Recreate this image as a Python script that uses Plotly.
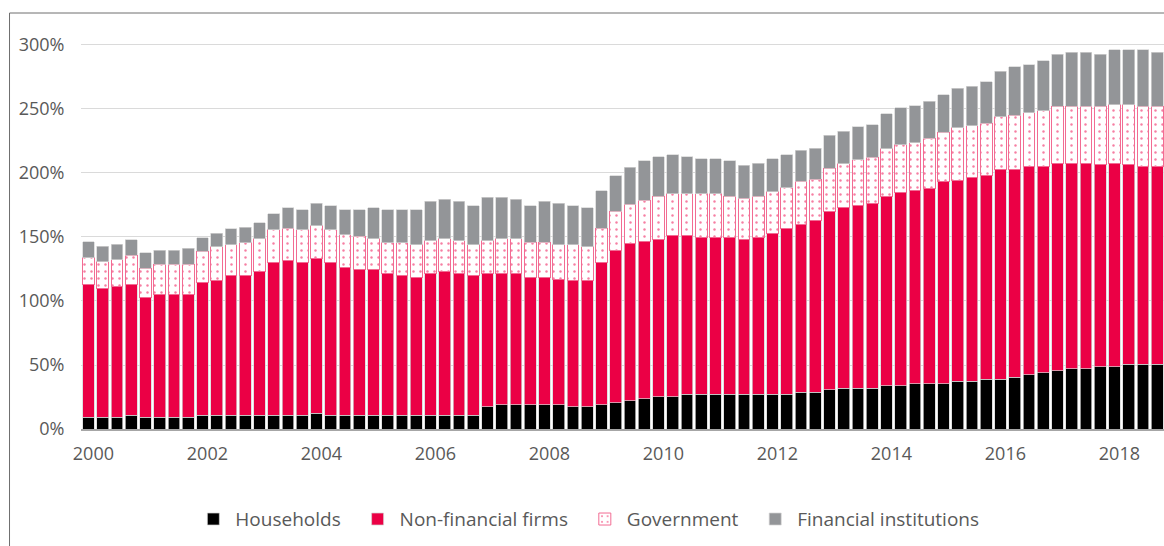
import plotly.graph_objects as go

years = list(range(2000, 2019))
quarters = [y + q / 4 for y in years for q in range(4)]

households = [9.1, 9.1, 9.1, 10.7, 9.1, 9.1, 9.1, 9.1, 10.7, 10.7, 10.7, 10.7, 10.7, 10.7, 10.7, 10.7,
              12.2, 10.7, 10.7, 10.7, 10.7, 10.7, 10.7, 10.7, 10.7, 10.7, 10.7, 10.7, 17.2, 18.8, 18.8, 18.8,
              18.8, 18.8, 17.2, 17.2, 18.8, 20.6, 22.1, 23.7, 25.3, 25.3, 27.1, 27.1, 27.1, 27.1, 27.1, 27.1,
              27.1, 27.1, 28.6, 28.6, 30.5, 32.0, 32.0, 32.0, 33.9, 33.9, 35.4, 35.4, 35.4, 37.2, 37.2, 38.8,
              38.8, 40.4, 42.2, 43.8, 45.6, 47.1, 47.1, 48.7, 48.7, 50.5, 50.5, 50.5]
non_financial = [103.7, 100.5, 102.1, 102.1, 94.0, 95.6, 95.6, 95.6, 103.9, 105.7, 109.1, 109.1, 112.2, 119.0, 120.8, 119.0,
                 120.9, 119.0, 115.6, 114.0, 114.0, 110.7, 109.1, 107.5, 110.7, 112.2, 110.7, 109.1, 104.2, 102.6, 102.6, 99.5,
                 99.5, 97.7, 99.2, 99.2, 110.9, 119.0, 122.7, 122.9, 122.9, 125.7, 123.9, 122.6, 122.6, 122.6, 121.1, 122.6,
                 126.0, 129.4, 131.0, 134.4, 139.3, 141.2, 142.7, 144.3, 147.4, 150.7, 150.8, 152.4, 157.6, 157.3, 159.2, 159.1,
                 164.1, 162.5, 162.5, 160.9, 162.2, 160.7, 160.7, 157.6, 159.1, 155.8, 154.2, 154.2]
government = [21.1, 20.9, 21.1, 22.9, 22.4, 24.2, 24.2, 24.2, 24.2, 25.8, 24.0, 25.8, 25.8, 25.8, 25.5, 25.8,
              25.8, 25.8, 25.5, 25.8, 24.0, 24.2, 25.8, 25.6, 25.7, 25.8, 25.7, 24.0, 25.7, 27.3, 27.3, 27.4,
              27.4, 27.4, 27.4, 25.8, 27.3, 30.7, 30.7, 32.0, 33.8, 32.9, 32.9, 34.2, 34.2, 32.3, 32.0, 32.3,
              32.1, 32.0, 33.9, 32.3, 33.8, 34.1, 35.7, 35.9, 37.5, 37.5, 37.5, 39.3, 39.0, 40.9, 40.6, 40.9,
              40.9, 42.4, 42.2, 44.0, 44.3, 44.3, 44.3, 45.9, 45.6, 47.2, 47.4, 47.4]
financial = [12.2, 12.2, 12.2, 12.2, 12.3, 10.7, 10.7, 12.2, 10.7, 10.7, 12.5, 12.2, 12.5, 12.5, 15.9, 15.9,
             17.4, 19.0, 19.3, 20.6, 24.2, 25.5, 25.5, 27.6, 30.8, 30.7, 30.8, 30.7, 33.9, 32.3, 30.7, 28.9,
             32.3, 32.5, 30.7, 30.7, 29.2, 27.6, 28.9, 31.0, 30.8, 30.4, 28.9, 27.3, 27.3, 27.6, 25.8, 25.8,
             26.0, 25.8, 24.2, 24.2, 25.8, 25.5, 25.8, 25.6, 27.6, 28.9, 28.9, 28.9, 29.2, 30.7, 30.7, 32.3,
             35.7, 37.5, 37.5, 39.1, 40.6, 42.4, 42.4, 40.6, 42.7, 42.7, 44.0, 42.4]

tick_years = list(range(2000, 2019, 2))
y_ticks = [0, 50, 100, 150, 200, 250, 300]

RED = "#eb0045"
GREY = "#939598"
BAR_W = 0.205
EDGE = "#d4d4d4"
NB = "\u00a0"

fig = go.Figure()
fig.add_bar(x=quarters, y=households, name="Households" + NB * 2, width=BAR_W,
            marker=dict(color="#000000", line=dict(color=EDGE, width=0.7)))
fig.add_bar(x=quarters, y=non_financial, name="Non-financial firms" + NB * 2, width=BAR_W,
            marker=dict(color=RED, line=dict(color=EDGE, width=0.7)))
fig.add_bar(x=quarters, y=government, name="Government" + NB * 2, width=BAR_W,
            marker=dict(color="#ffffff", line=dict(color="#f26c93", width=1),
                        pattern=dict(shape=".", fgcolor=RED, bgcolor="#ffffff",
                                     size=7, solidity=0.1)))
fig.add_bar(x=quarters, y=financial, name="Financial institutions", width=BAR_W,
            marker=dict(color=GREY, line=dict(color=EDGE, width=0.7)))

FONT = "Open Sans"
fig.update_layout(
    width=1164, height=546,
    margin=dict(l=81, r=0, t=30, b=117),
    barmode="stack",
    plot_bgcolor="#ffffff", paper_bgcolor="#ffffff",
    font=dict(family=FONT, color="#595959", size=18),
    showlegend=True,
    legend=dict(orientation="h", x=0.468, xanchor="center", y=-0.226, yanchor="middle",
                font=dict(family=FONT, size=19, color="#595959"), traceorder="normal",
                itemwidth=34, itemclick=False),
    xaxis=dict(range=[1999.868, 2018.868], tickvals=[y + 0.085 for y in tick_years],
               ticktext=[str(y) for y in tick_years], showgrid=False, zeroline=False,
               showline=True, linecolor="#a6a6a6", linewidth=1.5,
               ticks="outside", ticklen=8, tickcolor="rgba(0,0,0,0)",
               tickfont=dict(size=18, color="#595959")),
    yaxis=dict(range=[0, 311.7], tickvals=y_ticks, ticktext=[f"{v}%" for v in y_ticks],
               showgrid=True, gridcolor="#dadada", gridwidth=1.3, zeroline=False,
               ticks="outside", ticklen=12, tickcolor="rgba(0,0,0,0)",
               tickfont=dict(size=18, color="#595959")),
    shapes=[
        dict(type="line", xref="paper", yref="paper", x0=-0.066, x1=1.01, y0=1.0426, y1=1.0426,
             line=dict(color="#6e6e6e", width=1)),
        dict(type="line", xref="paper", yref="paper", x0=-0.066, x1=-0.066, y0=1.0426, y1=-0.3,
             line=dict(color="#6e6e6e", width=1)),
    ],
)

fig.write_html("out.html", config={"displayModeBar": False},
               post_script="document.body.style.margin='0';document.body.style.overflow='hidden';")
